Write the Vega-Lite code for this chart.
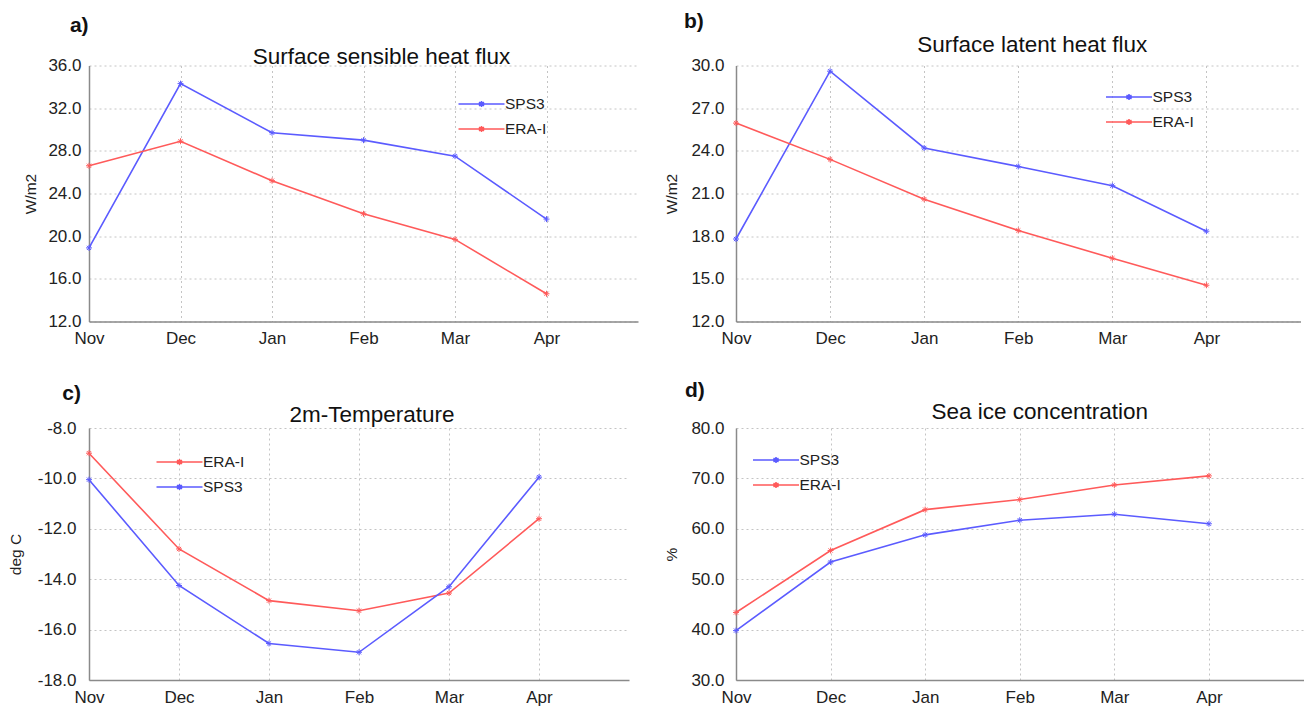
{
  "$schema": "https://vega.github.io/schema/vega-lite/v6.json",
  "background": "white",
  "padding": {"left": 8, "top": 10.5, "right": 0, "bottom": 0},
  "datasets": {
    "d": [
      {"p": "a", "s": "SPS3", "m": "Nov", "v": 18.9},
      {"p": "a", "s": "SPS3", "m": "Dec", "v": 34.3},
      {"p": "a", "s": "SPS3", "m": "Jan", "v": 29.7},
      {"p": "a", "s": "SPS3", "m": "Feb", "v": 29.0},
      {"p": "a", "s": "SPS3", "m": "Mar", "v": 27.5},
      {"p": "a", "s": "SPS3", "m": "Apr", "v": 21.6},
      {"p": "a", "s": "ERA-I", "m": "Nov", "v": 26.6},
      {"p": "a", "s": "ERA-I", "m": "Dec", "v": 28.9},
      {"p": "a", "s": "ERA-I", "m": "Jan", "v": 25.2},
      {"p": "a", "s": "ERA-I", "m": "Feb", "v": 22.1},
      {"p": "a", "s": "ERA-I", "m": "Mar", "v": 19.7},
      {"p": "a", "s": "ERA-I", "m": "Apr", "v": 14.6},
      {"p": "b", "s": "SPS3", "m": "Nov", "v": 17.8},
      {"p": "b", "s": "SPS3", "m": "Dec", "v": 29.6},
      {"p": "b", "s": "SPS3", "m": "Jan", "v": 24.2},
      {"p": "b", "s": "SPS3", "m": "Feb", "v": 22.9},
      {"p": "b", "s": "SPS3", "m": "Mar", "v": 21.55},
      {"p": "b", "s": "SPS3", "m": "Apr", "v": 18.35},
      {"p": "b", "s": "ERA-I", "m": "Nov", "v": 25.95},
      {"p": "b", "s": "ERA-I", "m": "Dec", "v": 23.4},
      {"p": "b", "s": "ERA-I", "m": "Jan", "v": 20.6},
      {"p": "b", "s": "ERA-I", "m": "Feb", "v": 18.4},
      {"p": "b", "s": "ERA-I", "m": "Mar", "v": 16.45},
      {"p": "b", "s": "ERA-I", "m": "Apr", "v": 14.55},
      {"p": "c", "s": "ERA-I", "m": "Nov", "v": -9.0},
      {"p": "c", "s": "ERA-I", "m": "Dec", "v": -12.8},
      {"p": "c", "s": "ERA-I", "m": "Jan", "v": -14.85},
      {"p": "c", "s": "ERA-I", "m": "Feb", "v": -15.25},
      {"p": "c", "s": "ERA-I", "m": "Mar", "v": -14.55},
      {"p": "c", "s": "ERA-I", "m": "Apr", "v": -11.6},
      {"p": "c", "s": "SPS3", "m": "Nov", "v": -10.05},
      {"p": "c", "s": "SPS3", "m": "Dec", "v": -14.25},
      {"p": "c", "s": "SPS3", "m": "Jan", "v": -16.55},
      {"p": "c", "s": "SPS3", "m": "Feb", "v": -16.9},
      {"p": "c", "s": "SPS3", "m": "Mar", "v": -14.3},
      {"p": "c", "s": "SPS3", "m": "Apr", "v": -9.95},
      {"p": "d", "s": "SPS3", "m": "Nov", "v": 39.8},
      {"p": "d", "s": "SPS3", "m": "Dec", "v": 53.4},
      {"p": "d", "s": "SPS3", "m": "Jan", "v": 58.8},
      {"p": "d", "s": "SPS3", "m": "Feb", "v": 61.7},
      {"p": "d", "s": "SPS3", "m": "Mar", "v": 62.9},
      {"p": "d", "s": "SPS3", "m": "Apr", "v": 61.0},
      {"p": "d", "s": "ERA-I", "m": "Nov", "v": 43.4},
      {"p": "d", "s": "ERA-I", "m": "Dec", "v": 55.7},
      {"p": "d", "s": "ERA-I", "m": "Jan", "v": 63.8},
      {"p": "d", "s": "ERA-I", "m": "Feb", "v": 65.8},
      {"p": "d", "s": "ERA-I", "m": "Mar", "v": 68.7},
      {"p": "d", "s": "ERA-I", "m": "Apr", "v": 70.5}
    ]
  },
  "data": {"name": "d"},
  "config": {
    "font": "Liberation Sans",
    "view": {"stroke": null},
    "title": {"font": "Liberation Sans", "fontSize": 22.5, "fontWeight": "normal", "color": "#111"},
    "axis": {
      "labelFont": "Liberation Sans", "labelFontSize": 17, "labelColor": "#222",
      "titleFont": "Liberation Sans", "titleFontSize": 15.5, "titleFontWeight": "normal", "titleColor": "#222",
      "ticks": false, "tickSize": 0,
      "domainColor": "#8a8a8a", "domainWidth": 1.5,
      "grid": true, "gridColor": "#c4c4c4", "gridDash": [2, 3], "gridWidth": 1
    },
    "axisX": {"labelAngle": 0, "labelPadding": 9, "title": null},
    "axisY": {"labelPadding": 12},
    "legend": {
      "orient": "none", "title": null, "padding": 0,
      "labelFont": "Liberation Sans", "labelFontSize": 15.5, "labelColor": "#222",
      "symbolType": "M-2,0L2,0M0,-0.26L0,0.26M-0.22,-0.15L0.22,0.15M-0.22,0.15L0.22,-0.15",
      "symbolSize": 529, "symbolStrokeWidth": 1.6, "symbolFillColor": "transparent",
      "labelOffset": 11, "rowPadding": 4
    },
    "line": {"strokeWidth": 1.6}
  },
  "columns": 2,
  "spacing": {"row": 32.5, "column": 26},
  "resolve": {"scale": {"color": "independent", "x": "independent", "y": "independent"}, "legend": {"color": "independent"}},
  "concat": [
    {
      "title": {"text": "a)", "anchor": "start", "dx": 46, "fontSize": 21, "fontWeight": "bold", "offset": 9.5},
      "hconcat": [
        {
          "width": 549, "height": 256,
          "title": {"text": "Surface sensible heat flux", "dx": 18, "offset": -11.5},
          "transform": [{"filter": "datum.p === 'a'"}],
          "mark": {"type": "line", "point": {"shape": "M-1,0L1,0M0,-1L0,1M-0.7,-0.7L0.7,0.7M-0.7,0.7L0.7,-0.7", "filled": false, "size": 36, "strokeWidth": 1}},
          "encoding": {
            "x": {"field": "m", "type": "ordinal", "scale": {"type": "point", "domain": ["Nov", "Dec", "Jan", "Feb", "Mar", "Apr"], "paddingOuter": 0.295, "align": 0}},
            "y": {"field": "v", "type": "quantitative", "scale": {"domain": [12, 36], "nice": false, "zero": false}, "axis": {"values": [12, 16, 20, 24, 28, 32, 36], "format": ".1f", "title": "W/m2", "titlePadding": 9, "labelPadding": 8}},
            "color": {"field": "s", "type": "nominal", "scale": {"domain": ["SPS3", "ERA-I"], "range": ["#5b5bff", "#ff5a5a"]}, "legend": {"legendX": 380, "legendY": 26}}
          }
        }
      ]
    },
    {
      "title": {"text": "b)", "anchor": "start", "dx": 19, "fontSize": 21, "fontWeight": "bold", "offset": 2.5},
      "hconcat": [
        {
          "width": 564.5, "height": 256,
          "title": {"text": "Surface latent heat flux", "dx": 14, "offset": 0},
          "transform": [{"filter": "datum.p === 'b'"}],
          "mark": {"type": "line", "point": {"shape": "M-1,0L1,0M0,-1L0,1M-0.7,-0.7L0.7,0.7M-0.7,0.7L0.7,-0.7", "filled": false, "size": 36, "strokeWidth": 1}},
          "encoding": {
            "x": {"field": "m", "type": "ordinal", "scale": {"type": "point", "domain": ["Nov", "Dec", "Jan", "Feb", "Mar", "Apr"], "paddingOuter": 0.345, "align": 0}},
            "y": {"field": "v", "type": "quantitative", "scale": {"domain": [12, 30], "nice": false, "zero": false}, "axis": {"values": [12, 15, 18, 21, 24, 27, 30], "format": ".1f", "title": "W/m2", "titlePadding": 11}},
            "color": {"field": "s", "type": "nominal", "scale": {"domain": ["SPS3", "ERA-I"], "range": ["#5b5bff", "#ff5a5a"]}, "legend": {"legendX": 380.5, "legendY": 19}}
          }
        }
      ]
    },
    {
      "title": {"text": "c)", "anchor": "start", "dx": 54, "fontSize": 21, "fontWeight": "bold", "offset": 0},
      "hconcat": [
        {
          "width": 540, "height": 252,
          "title": {"text": "2m-Temperature", "dx": 13, "offset": -7},
          "transform": [{"filter": "datum.p === 'c'"}],
          "mark": {"type": "line", "point": {"shape": "M-1,0L1,0M0,-1L0,1M-0.7,-0.7L0.7,0.7M-0.7,0.7L0.7,-0.7", "filled": false, "size": 36, "strokeWidth": 1}},
          "encoding": {
            "x": {"field": "m", "type": "ordinal", "scale": {"type": "point", "domain": ["Nov", "Dec", "Jan", "Feb", "Mar", "Apr"], "paddingOuter": 0.383, "align": 0}},
            "y": {"field": "v", "type": "quantitative", "scale": {"domain": [-18, -8], "nice": false, "zero": false}, "axis": {"values": [-18, -16, -14, -12, -10, -8], "format": ".1f", "labelExpr": "replace(datum.label, '\u2212', '-')", "title": "deg C", "titlePadding": 14, "labelPadding": 13}},
            "color": {"field": "s", "type": "nominal", "scale": {"domain": ["ERA-I", "SPS3"], "range": ["#ff5a5a", "#5b5bff"]}, "legend": {"legendX": 78, "legendY": 21.5}}
          }
        }
      ]
    },
    {
      "title": {"text": "d)", "anchor": "start", "dx": 20, "fontSize": 21, "fontWeight": "bold", "offset": 0},
      "hconcat": [
        {
          "width": 567.5, "height": 252,
          "title": {"text": "Sea ice concentration", "dx": 20, "offset": -4},
          "transform": [{"filter": "datum.p === 'd'"}],
          "mark": {"type": "line", "point": {"shape": "M-1,0L1,0M0,-1L0,1M-0.7,-0.7L0.7,0.7M-0.7,0.7L0.7,-0.7", "filled": false, "size": 36, "strokeWidth": 1}},
          "encoding": {
            "x": {"field": "m", "type": "ordinal", "scale": {"type": "point", "domain": ["Nov", "Dec", "Jan", "Feb", "Mar", "Apr"], "paddingOuter": 0.293, "align": 0}},
            "y": {"field": "v", "type": "quantitative", "scale": {"domain": [30, 80], "nice": false, "zero": false}, "axis": {"values": [30, 40, 50, 60, 70, 80], "format": ".1f", "title": "%", "titlePadding": 11}},
            "color": {"field": "s", "type": "nominal", "scale": {"domain": ["SPS3", "ERA-I"], "range": ["#5b5bff", "#ff5a5a"]}, "legend": {"legendX": 27.5, "legendY": 19.5}}
          }
        }
      ]
    }
  ]
}
